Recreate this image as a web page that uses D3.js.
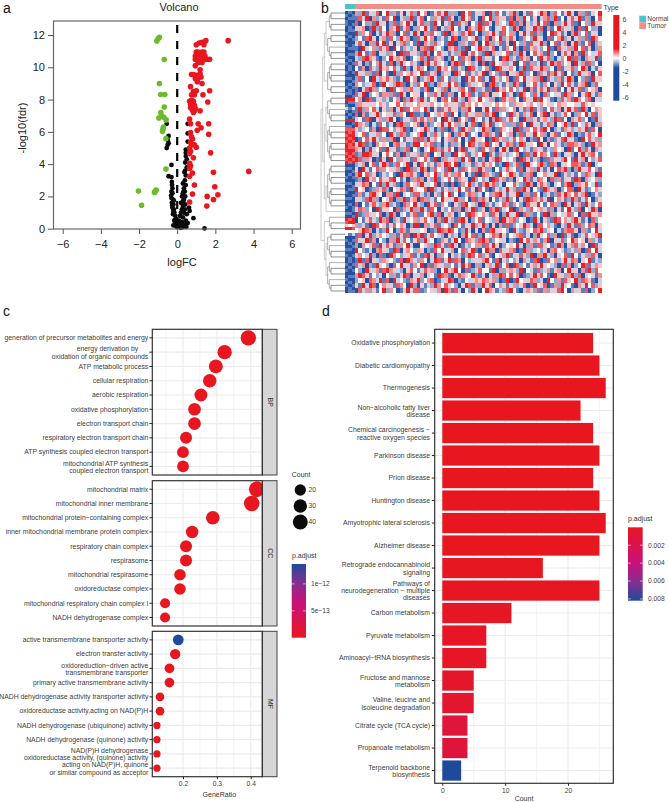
<!DOCTYPE html>
<html><head><meta charset="utf-8">
<script src="https://cdn.jsdelivr.net/npm/d3@7"></script>
<style>html,body{margin:0;background:#fff}svg{display:block}text{font-family:"Liberation Sans",Arial,sans-serif}</style>
</head><body><svg id="c" width="669" height="802"></svg>
<script>
// ---------- Volcano values [logFC, -log10(fdr)]
const volcanoDown=[[-.93,11.86],[-1,11.76],[-1.07,11.63],[-.68,10.48],[-.93,9],[-.87,8.31],[-.65,8.31],[-.68,7.54],[-.86,7.19],[-.82,6.98],[-.96,6.86],[-.7,6.9],[-.58,6.74],[-.72,6.3],[-.75,6.18],[-.77,6.03],[-.59,5.58],[-.59,3.7],[-2.03,2.33],[-1.1,2.4],[-1.15,2.31],[-1.19,2.25],[-1.87,1.45]];
const volcanoUp=[[2.67,11.65],[1.5,11.65],[1.3,11.55],[1.15,11.5],[1,11.4],[1.4,11.4],[1,10.95],[1.1,10.95],[1.2,10.9],[1.3,10.95],[1.4,10.95],[.95,10.7],[1.05,10.7],[1.15,10.75],[1.25,10.7],[1.35,10.7],[1.45,10.7],[.95,10.5],[1.05,10.45],[1.15,10.4],[1.25,10.5],[1.35,10.45],[1.45,10.5],[1.55,10.5],[1.7,10.5],[1.1,10.3],[1.3,10.3],[.95,10.1],[1.2,9.85],[.75,9.55],[.85,9.55],[1,9.5],[1.2,9.6],[1.25,9.4],[.95,9.3],[1.1,9.3],[1.05,9.1],[1.3,9],[.7,8.8],[1,8.55],[.85,8.5],[1.7,8.55],[.75,8.3],[.9,8.3],[1.35,8.3],[.65,7.9],[.75,7.95],[.85,7.9],[1.6,7.85],[.7,7.7],[.8,7.7],[.9,7.65],[.7,7.5],[.85,7.5],[.95,7.45],[.8,7.35],[.9,7.3],[1.2,7.3],[.85,7.2],[.65,6.8],[1.1,6.5],[.7,6.5],[1.65,6.5],[1.25,6.25],[1.05,6.1],[.7,5.95],[1.65,5.85],[.75,5.7],[.8,5.55],[.7,5.35],[.75,5.2],[.9,5.2],[1,5.05],[.65,5],[.7,4.8],[.65,4.65],[1.75,4.7],[.85,4.4],[.65,4.05],[.7,3.9],[.65,3.75],[.8,3.45],[.65,3.25],[1.9,3.5],[3.75,3.55],[.9,2.7],[1.97,2.6],[.8,2.15],[2.13,2.1],[1.57,2],[1.9,1.8],[.65,1.65],[1.55,1.4]];
const volcanoNs=[[-.55,6.5],[-.45,5.75],[-.5,5.5],[-.45,5.3],[-.5,5.2],[-.55,5],[-.3,3.95],[-.45,3.25],[-.3,3.2],[-.28,2.9],[-.27,2.7],[-.25,2.5],[-.3,2.3],[-.25,2.2],[-.3,1.9],[-.22,1.8],[-.28,1.6],[-.2,1.5],[-.25,1.3],[-.18,1.2],[-.15,1],[-.1,.8],[-.05,.6],[-.1,.4],[0,.3],[-.18,1.75],[-.2,1.1],[-.12,.55],[-.08,.2],[-.02,.1],[.03,.45],[.05,.15],[.55,6.5],[.55,5.9],[.55,5.4],[.45,4.9],[.45,4.7],[.45,4.5],[.5,4.3],[.42,4.1],[.5,3.8],[.42,3.6],[.38,3.5],[.45,3.3],[.4,3],[.3,2.8],[.35,2.5],[.4,2.3],[.3,2.2],[.25,2],[.35,1.8],[.2,1.6],[.3,1.4],[.65,1.1],[.62,1.3],[.4,1.2],[.2,1],[.85,.65],[.15,.8],[.3,.7],[.55,.35],[.1,.5],[.4,.2],[.3,.1],[.2,.05],[1.43,.02],[.45,2.7],[.33,2.3],[.42,2],[.3,1.7],[.25,1.2],[.35,1],[.15,.3],[.25,.4],[.12,.1],[.42,1.5],[.28,1.05],[.5,.9],[.45,.5],[-.22,.9],[-.15,.5],[-.2,.2],[.35,.25],[.48,.12],[-.32,2.05],[-.26,1.45]];
const volcanoXTicks=[-6,-4,-2,0,2,4,6], volcanoYTicks=[0,2,4,6,8,10,12];

// ---------- Heatmap values, estimated by eye: one digit per cell
const tumorRows=[
"628153704826150372846015738262084715360827413682051743860274158306271548",
"173806251748036281570426381750284613074826351706284150367281405738162047",
"704261835027164830572618405281736042817506342871605238471062583710462835",
"356018274063815702648317052684130752864103574286015382706148253607184260",
"826470315862047138506274318065273814026583174620583716204875130682471530",
"241785036174285601738460251387026458137064825730164285307146825036271864",
"573062848150367241806527341880263175048623715084261735820471360582147063",
"108346275708416325067183420657218043862570316482071563248107536284715026",
"684127053264081735218604753132680574218063547162830475618240375061824357",
"327865102483657014372816560284173606825314078251736041857203648172065381",
"750214683170285463106857342068714523070184562380471625013867245083617240",
"416073285647318205764012836471520873246108735640281753862407135724860315",
"853621704108264573481736025308647132580642170536812407251683704128356047",
"271408365752130846025683174162308574713085246017483562807326158604271835",
"642357018436871052748120653847201635460782315286105473164052847315680274",
"105786243081452673316804527053674182231708564742380615738261405837124560",
"738024516627183045504627381620485713176053482501864273072435186240578316",
"460871352314607285283145067418320654843620175624075381845102736186427053",
"265535465244746354655364346535275646453546454265545643645346554453754544",
"182647305260381746648205173735162840058417263460372815214736058371820465",
"706135824537264081120843657184027536627580341825163704680512374026483715",
"341780562684013527375261408520746183413068725743086251563287140657240183",
"865203174130786245706124583846250371075813462261740835137604582814375026",
"523416087742568103458630271073185624386201754508126473784023165236581740",
"347153624085276134680527314602758143067251843602715384620571438602157348",
"014758326268041537172836405627403185540187362374650218406125783510847362",
"387120645406735128846571203162504873268145037612873540850463127765201836",
"650283471835126704203487615740681352174260385078423165313264508148275063",
"128875304741608253616704382208457136480731652346017284764182035205836741",
"872650183084265317547318026356284705120568743460875132017253684183604257",
"236047158612743805074251638748023516375641208237108546821760354776128034",
"508314726453610872386027451803176462852204137541703628315047682028537461",
"684725013241085673105648237526740318076321845863126704463380152514276308",
"120836475578413026760528134741653082423087561205486137640726135187063462",
"357604182836102745283347061070164825168572304473218605752034168026574381",
"845012637204576183447082315263847150741015238361785042186560247708312465",
"161378540661803427731605284814013762304267851538026174025127386473680152",
"532786204370268156076231485358624071675041328240518763738046512861374025",
"704157326823107648320857164105278436082513476164207538414762085036185247",
"376240815540716382683174052472606381250768134801632745637205148527043860",
"812635470286034157114682703650241875463175028358076214180624357240718536",
"041573286702518346257430618361785024714326085672430185052187463685130724",
"623108745157463028806257134207413586382050617124586307746310528317247605",
"458760312840276153345012876874128305061783542083215476825403167750621483",
"170382564326151708681574320523068471204376851456713028347260815102374568",
"735816042062837415728340165138407652786124530210847365168053724864506231",
"206457183751264830043628751785013246617385024548302617734128605273640815",
"842130675318705642650217483360472581048260735670186234250674312526017483",
"564382071086423571317850264052316874725104368133752806683205471841362750",
"181705326542170863264038715817604235368417052425063178017462583760548132",
"736021854207485316480716532241385706205638147087241563854320716024871365",
"420853617863320574137562048568407123744180625652804317236156048350618274",
"687514230426158703560341876103765482130526874746012583741085326827034516",
"245076381708342165824670135870214356576362018018453762308426175482765103",
"518387046531764082051328647342058716283704651362570184570162834106384725",
"073625148264015837712453608617304285048651327841036527162537840635170248"];
const normalColumn=[
"0101100101010001010010100101080131018017878788878780100101001010010108758440100101001010010100",
"1010011010001010101100101011081010108017787877887870101001010010100107848410010100110100101011",
"0110101001011010010010010100181031018107888787878780010100110100011018857430101001001010100101"];
const heatLegendTicks=[6,4,2,0,-2,-4,-6];
const typeLegend=["Normal","Tumor"];
// Dendrogram topology (nested row groups)
const dendroTree=[[[[[[0,0],[0,0]],[[0,0],[0,[0,0]]]],[[[0,0],[0,0]],[0,0]]],[[[[0,0],[0,[0,0]]],[[0,[0,0]],[[0,0],[0,0]]]],[[[[0,0],[0,0]],[[0,0],[0,0]]],0]]],[[0,[0,0]],[[[0,0],[0,[0,0]]],[[0,[0,0]],[0,[0,0]]]]]];

// ---------- GO dot plot values
const goPanels=["BP","CC","MF"];
const bpTerms=["generation of precursor metabolites and energy","energy derivation by\noxidation of organic compounds","ATP metabolic process","cellular respiration","aerobic respiration","oxidative phosphorylation","electron transport chain","respiratory electron transport chain","ATP synthesis coupled electron transport","mitochondrial ATP synthesis\ncoupled electron transport"];
const bpRatio=[.393,.323,.297,.279,.253,.234,.234,.209,.2,.2];
const bpCount=[44,36,33,31,28,26,26,23,22,22];
const bpAdjust=[0,0,0,0,0,0,0,0,0,0];
const ccTerms=["mitochondrial matrix","mitochondrial inner membrane","mitochondrial protein−containing complex","inner mitochondrial membrane protein complex","respiratory chain complex","respirasome","mitochondrial respirasome","oxidoreductase complex","mitochondrial respiratory chain complex I","NADH dehydrogenase complex"];
const ccRatio=[.418,.403,.288,.227,.209,.209,.191,.191,.147,.147];
const ccCount=[47,45,32,25,23,23,21,21,16,16];
const ccAdjust=[0,0,0,0,0,0,0,0,0,0];
const mfTerms=["active transmembrane transporter activity","electron transfer activity","oxidoreduction−driven active\ntransmembrane transporter","primary active transmembrane activity","NADH dehydrogenase activity transporter activity","oxidoreductase activity,acting on NAD(P)H","NADH dehydrogenase (ubiquinone) activity","NADH dehydrogenase (quinone) activity","NAD(P)H dehydrogenase\noxidoreductase activity, (quinone) activity","acting on NAD(P)H, quinone\nor similar compound as acceptor"];
const mfRatio=[.186,.177,.16,.16,.132,.132,.123,.123,.123,.123];
const mfCount=[18,17,15,15,13,13,12,12,12,12];
const mfAdjust=[1.37e-12,0,0,0,0,0,0,0,0,0];
const ratioTicks=[.2,.3,.4], ratioMinor=[.15,.25,.35];
const sizeLegend=[20,30,40];
const goAdjustTicks=[1e-12,5e-13];

// ---------- KEGG bar values
const keggTerms=["Oxidative phosphorylation","Diabetic cardiomyopathy","Thermogenesis","Non−alcoholic fatty liver\ndisease","Chemical carcinogenesis −\nreactive oxygen species","Parkinson disease","Prion disease","Huntington disease","Amyotrophic lateral sclerosis","Alzheimer disease","Retrograde endocannabinoid\nsignaling","Pathways of\nneurodegeneration − multiple\ndiseases","Carbon metabolism","Pyruvate metabolism","Aminoacyl−tRNA biosynthesis","Fructose and mannose\nmetabolism","Valine, leucine and\nisoleucine degradation","Citrate cycle (TCA cycle)","Propanoate metabolism","Terpenoid backbone\nbiosynthesis"];
const keggCount=[24,25,26,22,24,25,24,25,26,25,16,25,11,7,7,5,5,4,4,3];
const keggAdjust=[0,0,0,0,0,0,0,0,0,0,.0001,.0001,.0002,.0003,.0003,.0005,.0007,.0012,.0013,.0082];
const countTicks=[0,10,20], countMinor=[5,15,25];
const keggAdjustTicks=[.002,.004,.006,.008];

// ---------- styles
const RED="#e8171f",BLUE="#1f4a9c",GREEN="#6cbb2c",DARK="#333",TXT="#3c3c3c",GRID="#ebebeb";
const svg=d3.select("#c");
const defs=svg.append("defs");
const ramp=[RED,"#d8134f","#c5127c","#83308f",BLUE];
function addLabel(x,y,t,size,opt={}){const e=svg.append("text").attr("x",x).attr("y",y).attr("font-size",size).attr("fill",opt.fill||"#222").attr("text-anchor",opt.anchor||"start").text(t);if(opt.rotate!=null)e.attr("transform",`rotate(${opt.rotate} ${x} ${y})`);return e;}
addLabel(3,13,"a",14,{fill:"#111"});addLabel(321,13,"b",14,{fill:"#111"});addLabel(3,316,"c",14,{fill:"#111"});addLabel(322,316,"d",14,{fill:"#111"});

// ---------- a: volcano
(function(){
 const x=d3.scaleLinear().domain([-6,6]).range([62.7,291.7]);
 const y=d3.scaleLinear().domain([0,12]).range([228.7,35]);
 const g=svg.append("g");
 const xa=g.append("g").attr("transform","translate(0,229)").call(d3.axisBottom(x).tickValues(volcanoXTicks).tickSize(5).tickPadding(6).tickFormat(d3.format("d")));
 const ya=g.append("g").attr("transform","translate(53.5,0)").call(d3.axisLeft(y).tickValues(volcanoYTicks).tickSize(5.5).tickPadding(3).tickFormat(d3.format("d")));
 [xa,ya].forEach(a=>{a.select(".domain").remove();a.selectAll("text").attr("font-size",11).attr("font-family",'"Liberation Sans"').attr("fill","#222");a.selectAll("line").attr("stroke","#555");});
 const dots=(d,c,r)=>g.append("g").selectAll("circle").data(d).join("circle").attr("cx",p=>x(p[0])).attr("cy",p=>y(p[1])).attr("r",r).attr("fill",c);
 dots(volcanoNs,"#0b0b0b",2.4);dots(volcanoUp,RED,2.8);dots(volcanoDown,GREEN,2.8);
 g.append("line").attr("x1",x(0)).attr("x2",x(0)).attr("y1",25).attr("y2",229).attr("stroke","#000").attr("stroke-width",2.2).attr("stroke-dasharray","8 8");
 g.append("rect").attr("x",53.5).attr("y",21).attr("width",247).attr("height",208).attr("fill","none").attr("stroke","#666").attr("stroke-width",1.2);
 addLabel(179,11,"Volcano",11,{anchor:"middle"});
 addLabel(182,266,"logFC",11,{anchor:"middle"});
 addLabel(26,128,"-log10(fdr)",11,{anchor:"middle",rotate:-90});
})();

// ---------- b: heatmap
(function(){
 const hx0=355,hx1=601.7,hy0=11,hy1=293;
 const color=d3.scaleLinear().domain([-6,-1.5,0,1.5,6]).range([BLUE,BLUE,"#ffffff",RED,RED]).clamp(true);
 const val=ch=>(+ch-4)*.36;
 defs.append("filter").attr("id","soft").attr("x","-2%").attr("y","-2%").attr("width","104%").attr("height","104%").append("feGaussianBlur").attr("stdDeviation",.75);
 const g=svg.append("g").attr("filter","url(#soft)").attr("shape-rendering","crispEdges");
 const rowsY=d3.scaleBand().domain(d3.range(tumorRows.length)).range([hy0,hy1]);
 const colsX=d3.scaleBand().domain(d3.range(tumorRows[0].length)).range([hx0,hx1]);
 const cells=tumorRows.flatMap((s,r)=>Array.from(s,(c,i)=>({r,i,v:val(c)})));
 g.selectAll("rect.t").data(cells).join("rect").attr("class","t").attr("x",d=>colsX(d.i)).attr("y",d=>rowsY(d.r)).attr("width",colsX.bandwidth()+.3).attr("height",rowsY.bandwidth()+.3).attr("fill",d=>color(d.v));
 const nY=d3.scaleBand().domain(d3.range(normalColumn[0].length)).range([hy0,hy1]);
 const nX=d3.scaleBand().domain(d3.range(normalColumn.length)).range([345,hx0]);
 const ncells=normalColumn.flatMap((s,i)=>Array.from(s,(c,r)=>({r,i,v:val(c)})));
 g.selectAll("rect.n").data(ncells).join("rect").attr("class","n").attr("x",d=>nX(d.i)).attr("y",d=>nY(d.r)).attr("width",nX.bandwidth()+.3).attr("height",nY.bandwidth()+.3).attr("fill",d=>color(d.v));
 // annotation
 svg.append("rect").attr("x",345).attr("y",4).attr("width",10).attr("height",5).attr("fill","#4fc0ce");
 svg.append("rect").attr("x",355).attr("y",4).attr("width",hx1-355).attr("height",5).attr("fill","#f28e87");
 addLabel(603.5,9.5,"Type",7,{fill:"#333"});
 // legend
 const ly=d3.scaleLinear().domain([6,-6]).range([19,97.3]);
 const gr=defs.append("linearGradient").attr("id","heatG").attr("x1",0).attr("x2",0).attr("y1",0).attr("y2",1);
 [6,1.5,0,-1.5,-6].forEach(v=>gr.append("stop").attr("offset",(ly(v)-15)/(100.7-15)).attr("stop-color",color(v)));
 svg.append("rect").attr("x",613.3).attr("y",15).attr("width",6).attr("height",85.7).attr("fill","url(#heatG)");
 svg.append("g").selectAll("text").data(heatLegendTicks).join("text").attr("x",622.5).attr("y",d=>ly(d)+2.5).attr("font-size",7).attr("fill","#444").text(d=>d<0?"-"+(-d):d);
 const ty=d3.scaleBand().domain(typeLegend).range([15.7,29]);
 svg.append("g").selectAll("rect").data(typeLegend).join("rect").attr("x",639.3).attr("y",d=>ty(d)).attr("width",6.7).attr("height",ty.bandwidth()).attr("fill",d=>d=="Normal"?"#4fc0ce":"#f28e87");
 svg.append("g").selectAll("text").data(typeLegend).join("text").attr("x",647.3).attr("y",d=>ty(d)+5.5).attr("font-size",6.6).attr("fill","#444").text(d=>d);
 // dendrogram
 const root=d3.hierarchy(dendroTree,d=>Array.isArray(d)?d:null);
 const leaves=root.leaves();
 const ly2=d3.scalePoint().domain(d3.range(leaves.length)).range([hy0+2,hy1-2]);
 leaves.forEach((l,i)=>l.py=ly2(i));
 root.eachAfter(n=>{if(n.children)n.py=d3.mean(n.children,c=>c.py);});
 const hx=d3.scaleLinear().domain([1,root.height]).range([331,321]);
 const px=n=>n.children?hx(n.height):345;
 const lg=svg.append("g").attr("fill","none");
 root.descendants().filter(n=>n.children).forEach(n=>{
   const xn=px(n);
   const c=n.height>=4?"#aaa":(n.height>=2?"#777":"#444");
   const ys=n.children.map(k=>k.py);
   lg.append("path").attr("d",`M${px(n.children[0])},${ys[0]}H${xn}V${ys[1]}H${px(n.children[1])}`).attr("stroke",c).attr("stroke-width",.6);
 });
})();

// ---------- c: dot plot
(function(){
 const x=d3.scaleLinear().domain([.2,.4]).range([183,250.7]);
 const xL=152.3,xR=262.3,stripR=277;
 const size=d3.scaleSqrt().domain([0,35]).range([3.6,7.9]);
 const fill=d3.scaleLinear().domain([0,.34e-12,.69e-12,1.03e-12,1.37e-12]).range(ramp);
 const panels=[{k:0,t:bpTerms,r:bpRatio,c:bpCount,a:bpAdjust,y0:329.3,y1:475},{k:1,t:ccTerms,r:ccRatio,c:ccCount,a:ccAdjust,y0:480.7,y1:626},{k:2,t:mfTerms,r:mfRatio,c:mfCount,a:mfAdjust,y0:631.3,y1:776.7}];
 panels.forEach(p=>{
  const y=d3.scalePoint().domain(d3.range(p.t.length)).range([p.y0,p.y1]).padding(.6);
  const g=svg.append("g");
  const cid="clipGo"+p.k;
  defs.append("clipPath").attr("id",cid).append("rect").attr("x",xL).attr("y",p.y0).attr("width",xR-xL).attr("height",p.y1-p.y0);
  g.selectAll("line.m").data(ratioMinor).join("line").attr("x1",x).attr("x2",x).attr("y1",p.y0).attr("y2",p.y1).attr("stroke",GRID).attr("stroke-width",.6);
  g.selectAll("line.M").data(ratioTicks).join("line").attr("x1",x).attr("x2",x).attr("y1",p.y0).attr("y2",p.y1).attr("stroke",GRID).attr("stroke-width",1.1);
  g.selectAll("line.h").data(p.t.map((_,i)=>i)).join("line").attr("x1",xL).attr("x2",xR).attr("y1",y).attr("y2",y).attr("stroke",GRID).attr("stroke-width",1.1);
  g.append("g").attr("clip-path",`url(#${cid})`).selectAll("circle").data(p.r.map((r,i)=>({r,i}))).join("circle").attr("cx",d=>x(d.r)).attr("cy",d=>y(d.i)).attr("r",d=>size(p.c[d.i]-12)).attr("fill",d=>fill(p.a[d.i]));
  g.append("rect").attr("x",xR).attr("y",p.y0).attr("width",stripR-xR).attr("height",p.y1-p.y0).attr("fill","#d6d6d6").attr("stroke","#444").attr("stroke-width",1);
  g.append("rect").attr("x",xL).attr("y",p.y0).attr("width",xR-xL).attr("height",p.y1-p.y0).attr("fill","none").attr("stroke",DARK).attr("stroke-width",1.2);
  const cy=(p.y0+p.y1)/2;
  addLabel(267.5,cy,goPanels[p.k],6.9,{anchor:"middle",rotate:90,fill:"#333"});
  p.t.forEach((t,i)=>{
    g.append("line").attr("x1",xL-2.8).attr("x2",xL).attr("y1",y(i)).attr("y2",y(i)).attr("stroke","#222").attr("stroke-width",1);
    multi(t,148.3,y(i));
  });
 });
 const ax=svg.append("g").attr("transform","translate(0,776.7)").call(d3.axisBottom(x).tickValues(ratioTicks).tickSize(2.5).tickPadding(2).tickFormat(d3.format(".1f")));
 ax.select(".domain").remove();ax.selectAll("text").attr("font-size",6.7).attr("font-family",'"Liberation Sans"').attr("fill",TXT);ax.selectAll("line").attr("stroke","#222");
 addLabel(219.3,796.7,"GeneRatio",7,{anchor:"middle",fill:"#333"});
 // size legend
 addLabel(291.7,476.5,"Count",7,{fill:"#333"});
 const ly=d3.scalePoint().domain(sizeLegend).range([490,522]);
 svg.append("g").selectAll("circle").data(sizeLegend).join("circle").attr("cx",300.3).attr("cy",ly).attr("r",d=>size(d-12)).attr("fill","#0b0b0b");
 svg.append("g").selectAll("text").data(sizeLegend).join("text").attr("x",308.5).attr("y",d=>ly(d)+2.4).attr("font-size",6.7).attr("fill",TXT).text(d=>d);
 // colour legend
 addLabel(292,558,"p.adjust",7,{fill:"#333"});
 const cs=d3.scaleLinear().domain([0,1.37e-12]).range([637.7,564]);
 colorBar("goG",291.7,564,14.3,73.7,cs,goAdjustTicks,d=>d==1e-12?"1e−12":"5e−13",311);
})();

// ---------- d: bars
(function(){
 const x=d3.scaleLinear().domain([0,20]).range([442.3,568]);
 const xL=434.7,xR=613.3,yT=329.3,yB=783.3;
 const y=d3.scaleBand().domain(d3.range(keggTerms.length)).range([331.8,781.8]).paddingInner(.1).paddingOuter(.05);
 const fill=d3.scaleLinear().domain([0,.00205,.0041,.00615,.0082]).range(ramp);
 const g=svg.append("g");
 g.selectAll("line.m").data(countMinor).join("line").attr("x1",x).attr("x2",x).attr("y1",yT).attr("y2",yB).attr("stroke",GRID).attr("stroke-width",.6);
 g.selectAll("line.M").data(countTicks).join("line").attr("x1",x).attr("x2",x).attr("y1",yT).attr("y2",yB).attr("stroke",GRID).attr("stroke-width",1.1);
 const idx=keggTerms.map((_,i)=>i);
 g.selectAll("line.h").data(idx).join("line").attr("x1",xL).attr("x2",xR).attr("y1",i=>y(i)+y.bandwidth()/2).attr("y2",i=>y(i)+y.bandwidth()/2).attr("stroke",GRID).attr("stroke-width",1.1);
 g.selectAll("rect.b").data(idx).join("rect").attr("x",x(0)).attr("y",i=>y(i)).attr("width",i=>x(keggCount[i])-x(0)).attr("height",y.bandwidth()).attr("fill",i=>fill(keggAdjust[i]));
 g.append("rect").attr("x",xL).attr("y",yT).attr("width",xR-xL).attr("height",yB-yT).attr("fill","none").attr("stroke",DARK).attr("stroke-width",1.2);
 idx.forEach(i=>{const cy=y(i)+y.bandwidth()/2;
  g.append("line").attr("x1",xL-2.8).attr("x2",xL).attr("y1",cy).attr("y2",cy).attr("stroke","#222").attr("stroke-width",1);
  multi(keggTerms[i],430,cy);});
 const ax=svg.append("g").attr("transform",`translate(0,${yB})`).call(d3.axisBottom(x).tickValues(countTicks).tickSize(2.5).tickPadding(2).tickFormat(d3.format("d")));
 ax.select(".domain").remove();ax.selectAll("text").attr("font-size",6.7).attr("font-family",'"Liberation Sans"').attr("fill",TXT);ax.selectAll("line").attr("stroke","#222");
 addLabel(524,800.5,"Count",7,{anchor:"middle",fill:"#333"});
 addLabel(628,520.5,"p.adjust",7,{fill:"#333"});
 const cs=d3.scaleLinear().domain([0,.0082]).range([527.3,600.7]);
 colorBar("keggG",628,527.3,14.7,73.4,cs,keggAdjustTicks,d=>d.toFixed(3),648);
})();

function multi(t,x,y){
 const lines=t.split("\n"),lh=7.35,off=(lines.length-1)/2;
 lines.forEach((l,i)=>{const dy=(i-off)*lh+(lines.length==2?.6:0)+2.3;
  let xx=x; if(l==="energy derivation by")xx=x-10;
  svg.append("text").attr("x",xx).attr("y",y+dy).attr("text-anchor","end").attr("font-size",6.85).attr("fill",TXT).text(l);});
}
function colorBar(id,x,y,w,h,scale,ticks,fmt,lx){
 const gr=defs.append("linearGradient").attr("id",id).attr("x1",0).attr("x2",0).attr("y1",scale.range()[0]<scale.range()[1]?0:1).attr("y2",scale.range()[0]<scale.range()[1]?1:0);
 ramp.forEach((c,i)=>gr.append("stop").attr("offset",i/(ramp.length-1)).attr("stop-color",c));
 svg.append("rect").attr("x",x).attr("y",y).attr("width",w).attr("height",h).attr("fill",`url(#${id})`);
 ticks.forEach(t=>{const yy=scale(t);
  svg.append("line").attr("x1",x).attr("x2",x+2.8).attr("y1",yy).attr("y2",yy).attr("stroke","#fff").attr("stroke-width",.6);
  svg.append("line").attr("x1",x+w-2.8).attr("x2",x+w).attr("y1",yy).attr("y2",yy).attr("stroke","#fff").attr("stroke-width",.6);
  svg.append("text").attr("x",lx).attr("y",yy+2.3).attr("font-size",6.7).attr("fill",TXT).text(fmt(t));});
}
</script></body></html>
